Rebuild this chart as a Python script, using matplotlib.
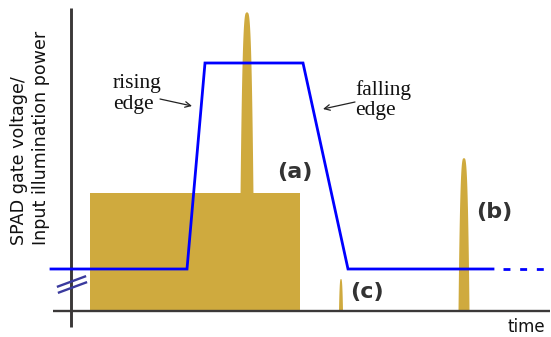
import numpy as np
import matplotlib
matplotlib.use("Agg")
import matplotlib.pyplot as plt

plt.rcParams['lines.scale_dashes'] = False

# Coordinates in a pixel-like time/level frame (y grows downward)
# Gate voltage pulse
gate_t = [51, 187, 205, 303, 348, 493]
gate_v = [269, 269, 63, 63, 269, 269]
gate_dotted_t = [503, 551]
gate_dotted_v = [269, 269]

# Illumination block (ambient light during gate)
block_t = [90, 300]
block_top = 193
baseline = 311

# Photon spikes: name, centre time, peak level, half-width at base
spike_names = ['a', 'b', 'c']
spike_t = [247, 464, 341]
spike_peak = [12, 158, 279]
spike_hw = [7.5, 5.5, 2.0]

# Labels
label_text = ['(a)', '(b)', '(c)']
label_t = [295, 494, 367]
label_v = [172, 212, 292]

GOLD = '#CFAA3E'
BLUE = '#0000FF'
AX = '#3b3838'

fig = plt.figure(figsize=(5.51, 3.37), dpi=100)
ax = fig.add_axes([0, 0, 1, 1])
ax.set_xlim(0, 551)
ax.set_ylim(337, 0)
ax.axis('off')

# Gold block
ax.fill_between(block_t, [block_top, block_top], [baseline, baseline],
                color=GOLD, lw=0, zorder=1)

# Spikes
for t0, pk, hw in zip(spike_t, spike_peak, spike_hw):
    H = baseline - pk
    s = np.linspace(0, 1, 200)
    half = hw * s ** 0.3
    ys = pk + s * H
    xs = np.concatenate([t0 - half, (t0 + half)[::-1]])
    yy = np.concatenate([ys, ys[::-1]])
    ax.fill(xs, yy, color=GOLD, lw=0, zorder=1)

# Axes lines
ax.plot([71, 71], [8, 327], color=AX, lw=2.1, solid_capstyle='butt', zorder=3)
ax.plot([53, 550], [311, 311], color=AX, lw=1.7, solid_capstyle='butt', zorder=3)

# Gate pulse
ax.plot(gate_t, gate_v, color=BLUE, lw=2.0, solid_joinstyle='miter', zorder=4)
ax.plot(gate_dotted_t, gate_dotted_v, color=BLUE, lw=2.0,
        linestyle=(0, (5.0, 7.0)), zorder=4)

# Axis break marks
ax.plot([58, 85], [286.5, 276.5], color='#3a3a9e', lw=1.7, zorder=5)
ax.plot([59, 86], [292.5, 282.5], color='#3a3a9e', lw=1.7, zorder=5)

# Spike labels
for txt, x, y in zip(label_text, label_t, label_v):
    ax.text(x, y, txt, ha='center', va='center', fontsize=16,
            fontweight='bold', color='#333333', family='DejaVu Sans', zorder=6)

# Edge annotations
ax.text(113, 94, 'rising\nedge', ha='left', va='center', fontsize=15.5,
        family='Liberation Serif', color='#111111', linespacing=1.1)
ax.text(355, 100, 'falling\nedge', ha='left', va='center', fontsize=15.5,
        family='Liberation Serif', color='#111111', linespacing=1.1)
ax.annotate('', xy=(192, 106), xytext=(160, 99),
            arrowprops=dict(arrowstyle='->', color='#222222', lw=0.9,
                            mutation_scale=10, shrinkA=0, shrinkB=0))
ax.annotate('', xy=(323, 109), xytext=(355, 102),
            arrowprops=dict(arrowstyle='->', color='#222222', lw=0.9,
                            mutation_scale=10, shrinkA=0, shrinkB=0))

# Axis labels
ax.text(30, 245, 'SPAD gate voltage/\nInput illumination power', rotation=90,
        ha='center', va='bottom', fontsize=12.6, family='DejaVu Sans',
        color='#111111', linespacing=1.25, multialignment='left')
ax.text(526, 327, 'time', ha='center', va='center', fontsize=12,
        family='DejaVu Sans', color='#111111')

fig.savefig('out.png', dpi=100)
